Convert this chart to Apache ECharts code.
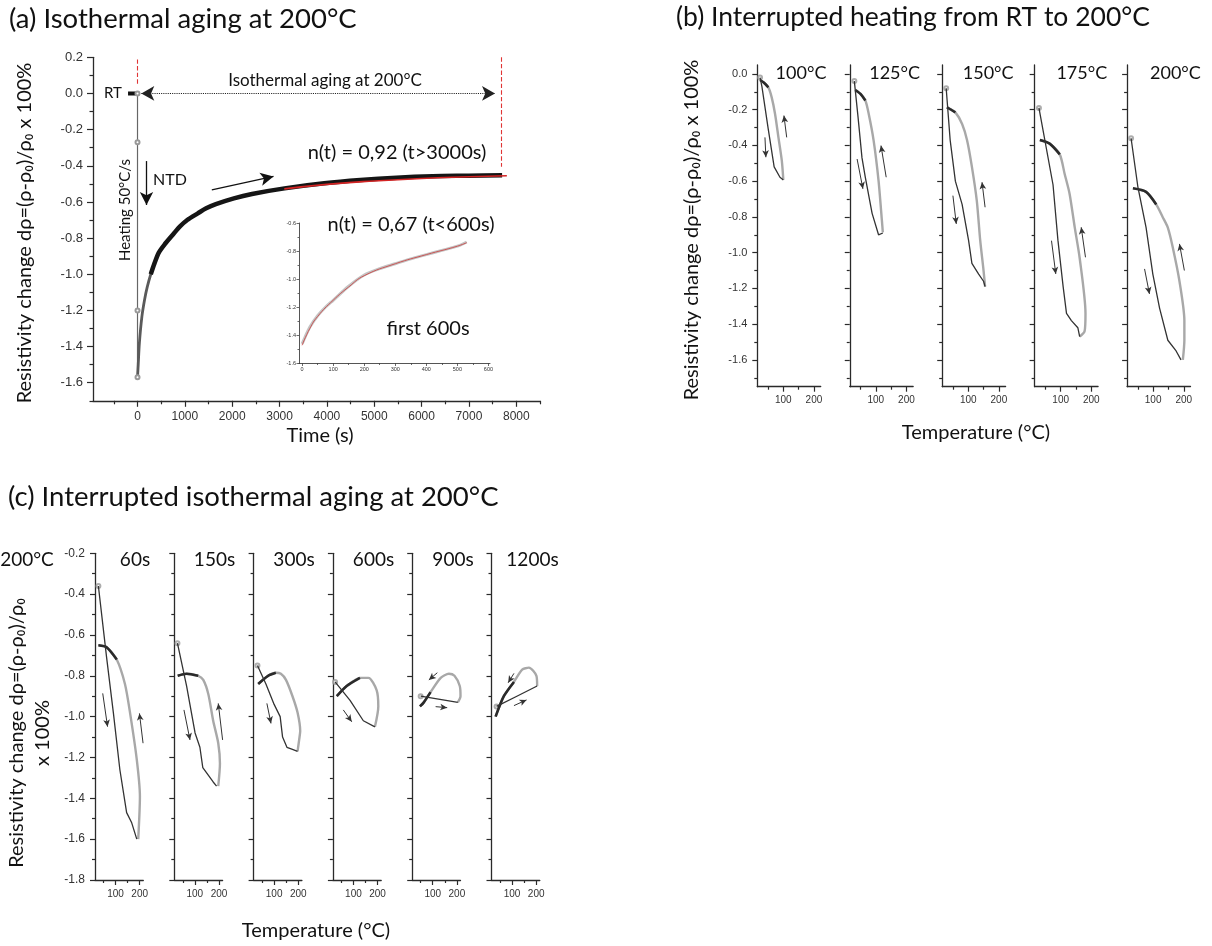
<!DOCTYPE html>
<html><head><meta charset="utf-8">
<script src="https://cdn.jsdelivr.net/npm/echarts@6/dist/echarts.min.js"></script>
<style>html,body{margin:0;padding:0;background:#fff}#c{width:1212px;height:946px}</style>
</head><body><div id="c"></div>
<script>
// ================= DATA =================
// ---- Panel (a): isothermal aging at 200°C ----
const rtTime = [-200, -150, -100, -50, -20];
const rtValue = [0, 0, 0, 0, 0];
const heatingTime = [0, 0, 0, 0];
const heatingValue = [0, -0.27, -1.2, -1.57];
const agingTime = [0, 15, 40, 92, 150, 206, 280, 358, 450, 587, 750, 892, 1050, 1274, 1450, 1655, 2036, 2418, 3104, 3943, 4706, 5469, 6231, 6994, 7700];
const agingValue = [-1.57, -1.50, -1.38, -1.236, -1.14, -1.07, -1.00, -0.94, -0.88, -0.83, -0.78, -0.737, -0.70, -0.663, -0.635, -0.612, -0.580, -0.556, -0.525, -0.497, -0.479, -0.466, -0.458, -0.455, -0.452];
const fitLongTime = [3100, 4000, 5000, 6000, 7000, 7800];
const fitLongValue = [-0.528, -0.503, -0.484, -0.470, -0.461, -0.455];
const insetTime = [0, 10, 25, 50, 75, 100, 150, 200, 250, 300, 350, 400, 450, 500, 530];
const insetValue = [-1.46, -1.41, -1.34, -1.26, -1.20, -1.15, -1.05, -0.97, -0.925, -0.89, -0.855, -0.825, -0.795, -0.765, -0.735];
const insetFitTime = [0, 25, 50, 100, 150, 200, 300, 400, 500, 530];
const insetFitValue = [-1.47, -1.35, -1.265, -1.15, -1.055, -0.975, -0.89, -0.825, -0.765, -0.74];

// tick labels
const aTimeTicks = [0, 1000, 2000, 3000, 4000, 5000, 6000, 7000, 8000];
const aTimeMinor = [-500, 500, 1500, 2500, 3500, 4500, 5500, 6500, 7500, 8500];
const aValueTicks = [0.2, 0.0, -0.2, -0.4, -0.6, -0.8, -1.0, -1.2, -1.4, -1.6];
const aValueMinor = [0.1, -0.1, -0.3, -0.5, -0.7, -0.9, -1.1, -1.3, -1.5, -1.7];
const insetTimeTicks = [0, 100, 200, 300, 400, 500, 600];
const insetTimeMinor = [50, 150, 250, 350, 450, 550];
const insetValueTicks = [-1.6, -1.4, -1.2, -1.0, -0.8, -0.6];
const insetValueMinor = [-1.5, -1.3, -1.1, -0.9, -0.7];
const tempTicks = [100, 200];
const tempMinor = [50, 150];
const bValueTicks = [0.0, -0.2, -0.4, -0.6, -0.8, -1.0, -1.2, -1.4, -1.6];
const bValueMinor = [-0.1, -0.3, -0.5, -0.7, -0.9, -1.1, -1.3, -1.5, -1.7];
const cValueTicks = [-0.2, -0.4, -0.6, -0.8, -1.0, -1.2, -1.4, -1.6, -1.8];
const cValueMinor = [-0.3, -0.5, -0.7, -0.9, -1.1, -1.3, -1.5, -1.7];

// ---- Panel (b): interrupted heating from RT ----
const bTitles = ['100°C', '125°C', '150°C', '175°C', '200°C'];
const bHeatT = [
  [24, 30, 50, 70, 89, 100],
  [30, 42, 55, 66, 88, 109, 123],
  [28, 41, 58, 80, 101, 112, 134, 150, 155],
  [29, 75, 91, 108, 119, 135, 156, 162],
  [28, 50, 77, 99, 121, 148, 175, 191]
];
const bHeatV = [
  [-0.02, -0.07, -0.30, -0.52, -0.578, -0.593],
  [-0.04, -0.24, -0.47, -0.58, -0.78, -0.90, -0.89],
  [-0.08, -0.37, -0.60, -0.73, -0.93, -1.06, -1.12, -1.16, -1.19],
  [-0.19, -0.62, -0.93, -1.19, -1.34, -1.38, -1.42, -1.47],
  [-0.36, -0.63, -0.86, -1.12, -1.31, -1.49, -1.55, -1.60]
];
const bCoolT = [
  [100, 95, 84, 73, 62, 51, 35, 24],
  [123, 120, 109, 93, 77, 66, 50, 33],
  [155, 150, 139, 128, 112, 96, 80, 58, 36, 30],
  [162, 178, 181, 162, 146, 129, 113, 97, 64, 32],
  [197, 202, 202, 186, 164, 148, 131, 110, 77, 34]
];
const bCoolV = [
  [-0.593, -0.485, -0.355, -0.224, -0.131, -0.075, -0.047, -0.034],
  [-0.886, -0.821, -0.597, -0.373, -0.224, -0.149, -0.112, -0.090],
  [-1.19, -1.10, -0.93, -0.71, -0.52, -0.37, -0.28, -0.215, -0.192, -0.187],
  [-1.47, -1.44, -1.34, -1.03, -0.86, -0.67, -0.56, -0.45, -0.39, -0.37],
  [-1.60, -1.49, -1.38, -1.16, -0.97, -0.86, -0.80, -0.73, -0.66, -0.64]
];
// direction arrows [T1, v1, T2, v2]
const bArrows = [
  [[40, -0.355, 43, -0.466], [111, -0.355, 102, -0.233]],
  [[39, -0.476, 58, -0.643], [134, -0.578, 117, -0.401]],
  [[50, -0.681, 61, -0.839], [155, -0.746, 145, -0.606]],
  [[70, -0.933, 84, -1.119], [181, -1.026, 167, -0.858]],
  [[72, -1.091, 88, -1.231], [202, -1.100, 186, -0.951]]
];

// ---- Panel (c): interrupted isothermal aging at 200°C ----
const cTitles = ['60s', '150s', '300s', '600s', '900s', '1200s'];
const cHeatT = [
  [29, 63, 91, 118, 146, 167, 188],
  [28, 66, 101, 121, 133, 176, 190],
  [31, 66, 100, 125, 135, 153, 176, 197],
  [24, 86, 141, 189],
  [50, 130, 204],
  [36, 120, 204]
];
const cHeatV = [
  [-0.36, -0.71, -0.98, -1.26, -1.47, -1.52, -1.60],
  [-0.64, -0.85, -1.08, -1.15, -1.25, -1.32, -1.34],
  [-0.75, -0.84, -0.94, -1.00, -1.10, -1.15, -1.16, -1.17],
  [-0.83, -0.92, -1.02, -1.05],
  [-0.90, -0.915, -0.93],
  [-0.95, -0.90, -0.85]
];
const cCoolT = [
  [194, 201, 188, 160, 139, 105, 63, 29],
  [197, 204, 197, 176, 156, 135, 114, 66, 29],
  [197, 204, 208, 197, 176, 149, 128, 107, 75, 34],
  [189, 203, 196, 162, 127, 72, 31],
  [204, 215, 212, 190, 167, 133, 91, 63, 47],
  [204, 201, 170, 142, 108, 66, 32]
];
const cCoolV = [
  [-1.60, -1.39, -1.21, -0.98, -0.84, -0.72, -0.66, -0.65],
  [-1.34, -1.23, -1.13, -1.02, -0.89, -0.82, -0.80, -0.79, -0.80],
  [-1.17, -1.11, -1.07, -0.98, -0.90, -0.82, -0.79, -0.785, -0.80, -0.84],
  [-1.05, -0.95, -0.87, -0.81, -0.81, -0.85, -0.90],
  [-0.93, -0.90, -0.85, -0.80, -0.79, -0.81, -0.88, -0.93, -0.95],
  [-0.85, -0.80, -0.76, -0.77, -0.83, -0.90, -1.00]
];
const cArrows = [
  [[47, -0.886, 67, -1.049], [214, -1.13, 199, -0.984]],
  [[55, -0.967, 80, -1.114], [215, -1.114, 197, -0.935]],
  [[70, -0.935, 87, -1.033], [222, -0.976, 207, -0.894]],
  [[58, -0.967, 93, -1.025], [224, -0.897, 205, -0.829]],
  [[119, -0.785, 84, -0.820], [112, -0.951, 160, -0.956]],
  [[108, -0.788, 84, -0.834], [108, -0.946, 160, -0.918]]
];

// ================= BUILD =================
const FONT = 'Lato, "Noto Sans", sans-serif';
const TFONT = '"Liberation Sans", Arial, sans-serif';
const AX = '#2a2a2a';
const zip = (a, b) => a.map((x, i) => [x, b[i]]);
const f1 = v => v.toFixed(1);
const f0 = v => String(Math.round(v));

const grids = [], xAxes = [], yAxes = [], series = [];

function axisPair(g, dim, min, max, major, minor, o) {
  const pos = dim === 'x' ? 'bottom' : 'left';
  const main = {
    gridIndex: g, type: 'value', min, max, position: pos, offset: 0,
    axisLine: {show: true, onZero: false, lineStyle: {color: AX, width: o.lw || 1.3}},
    axisTick: {show: true, customValues: major, length: o.majorLen, lineStyle: {color: AX, width: o.tw || 1.2}},
    axisLabel: o.labels ? {show: true, customValues: major, formatter: o.fmt, fontSize: o.fs, fontFamily: TFONT, color: '#333', margin: o.margin} : {show: false},
    splitLine: {show: false}
  };
  const mn = {
    gridIndex: g, type: 'value', min, max, position: pos, offset: 0,
    axisLine: {show: false, onZero: false},
    axisTick: {show: true, customValues: minor, length: o.minorLen, lineStyle: {color: AX, width: o.tw || 1.2}},
    axisLabel: {show: false}, splitLine: {show: false}
  };
  return [main, mn];
}

function addGrid(rect, xr, yr, xt, yt, xo, yo) {
  const g = grids.length;
  grids.push({left: rect[0], top: rect[1], width: rect[2], height: rect[3]});
  xAxes.push(...axisPair(g, 'x', xr[0], xr[1], xt[0], xt[1], xo));
  yAxes.push(...axisPair(g, 'y', yr[0], yr[1], yt[0], yt[1], yo));
  return 2 * g;
}

function arrowLine(idx, pts, size, width, color, type, syms) {
  return {
    type: 'line', xAxisIndex: idx, yAxisIndex: idx, data: [], clip: false, silent: true,
    markLine: {
      silent: true, animation: false, label: {show: false},
      symbol: syms || ['none', 'arrow'], symbolSize: size,
      lineStyle: {color: color || '#222', width: width, type: type || 'solid'},
      data: pts.map(p => [{coord: [p[0], p[1]]}, {coord: [p[2], p[3]]}])
    }
  };
}

// ---- (a) main ----
const A = addGrid([93, 57.3, 447, 343.5], [-940, 8500], [-1.7, 0.2],
  [aTimeTicks, aTimeMinor], [aValueTicks, aValueMinor],
  {labels: true, fmt: f0, fs: 12, margin: 10, majorLen: 6, minorLen: 3.5},
  {labels: true, fmt: f1, fs: 13, margin: 10, majorLen: 6, minorLen: 3.5});
series.push({type: 'line', xAxisIndex: A, yAxisIndex: A, data: zip(rtTime, rtValue), showSymbol: false, lineStyle: {color: '#111', width: 4}, z: 3});
series.push({type: 'line', xAxisIndex: A, yAxisIndex: A, data: zip(heatingTime, heatingValue), symbol: 'emptyCircle', symbolSize: 4, itemStyle: {color: '#999'}, lineStyle: {color: '#666', width: 1.2}, z: 3});
// early part of recovery (thin grey) and the dense later part (thick black band)
series.push({type: 'line', xAxisIndex: A, yAxisIndex: A, data: zip(agingTime.slice(0, 9), agingValue.slice(0, 9)), smooth: 0.3, showSymbol: false, lineStyle: {color: '#5a5a5a', width: 2.8}, z: 3});
series.push({type: 'line', xAxisIndex: A, yAxisIndex: A, data: zip(agingTime.slice(6), agingValue.slice(6)), smooth: 0.3, showSymbol: false, lineStyle: {color: '#151515', width: 4.5}, z: 3});
series.push({type: 'line', xAxisIndex: A, yAxisIndex: A, data: zip(fitLongTime, fitLongValue), smooth: true, showSymbol: false, lineStyle: {color: '#d42424', width: 1.6}, z: 4});
// annotations of (a)
series.push(arrowLine(A, [[0, 0.188, 0, 0.049], [7690, 0.2, 7690, -0.405]], 0, 1.1, '#e03535', 'dashed', ['none', 'none']));
series.push(arrowLine(A, [[80, 0, 7550, 0]], [11, 13], 1.1, '#222', 'dotted', ['arrow', 'arrow']));
series.push(arrowLine(A, [[190, -0.374, 190, -0.617]], [10, 13], 1.3, '#111'));
series.push(arrowLine(A, [[1569, -0.533, 2872, -0.459]], [10, 13], 1.3, '#111'));

// ---- (a) inset ----
const I = addGrid([299, 223, 191, 140.5], [-10, 605], [-1.6, -0.6],
  [insetTimeTicks, insetTimeMinor], [insetValueTicks, insetValueMinor],
  {labels: true, fmt: f0, fs: 5.5, margin: 3, majorLen: 2.5, minorLen: 1.5, lw: 0.8, tw: 0.7},
  {labels: true, fmt: f1, fs: 5.5, margin: 3, majorLen: 2.5, minorLen: 1.5, lw: 0.8, tw: 0.7});
series.push({type: 'line', xAxisIndex: I, yAxisIndex: I, data: zip(insetTime, insetValue), smooth: 0.3, showSymbol: false, lineStyle: {color: '#c4c4c4', width: 3}});
series.push({type: 'line', xAxisIndex: I, yAxisIndex: I, data: zip(insetFitTime, insetFitValue), smooth: true, showSymbol: false, lineStyle: {color: '#c94848', width: 0.9}});

// ---- loop panels ----
function addLoop(idx, hT, hV, cT, cV, arrows) {
  series.push({type: 'line', xAxisIndex: idx, yAxisIndex: idx, data: zip(cT, cV), smooth: 0.25, showSymbol: false, clip: false, lineStyle: {color: '#a8a8a8', width: 2.4}});
  series.push({type: 'line', xAxisIndex: idx, yAxisIndex: idx, data: zip(cT.slice(-3), cV.slice(-3)), smooth: 0.25, showSymbol: false, clip: false, lineStyle: {color: '#2a2a2a', width: 2.6}});
  series.push({type: 'line', xAxisIndex: idx, yAxisIndex: idx, data: zip(hT, hV), showSymbol: false, clip: false, lineStyle: {color: '#333', width: 1.3}});
  series.push({type: 'scatter', xAxisIndex: idx, yAxisIndex: idx, data: [[hT[0], hV[0]]], symbol: 'emptyCircle', symbolSize: 4, itemStyle: {color: '#999', borderWidth: 1}});
  series.push(arrowLine(idx, arrows, [5, 7], 1, '#333'));
}

for (let k = 0; k < 5; k++) {
  const idx = addGrid([757.3 + 92.45 * k, 65, 63.4, 321.7], [15, 222], [-1.75, 0.05],
    [tempTicks, tempMinor], [bValueTicks, bValueMinor],
    {labels: true, fmt: f0, fs: 10, margin: 9, majorLen: 5, minorLen: 3},
    {labels: k === 0, fmt: f1, fs: 11, margin: 10, majorLen: 5, minorLen: 3});
  addLoop(idx, bHeatT[k], bHeatV[k], bCoolT[k], bCoolV[k], bArrows[k]);
}
for (let k = 0; k < 6; k++) {
  const idx = addGrid([95 + 79.3 * k, 553.3, 48.3, 326.7], [15, 215], [-1.8, -0.2],
    [tempTicks, tempMinor], [cValueTicks, cValueMinor],
    {labels: true, fmt: f0, fs: 10, margin: 9, majorLen: 5, minorLen: 3},
    {labels: k === 0, fmt: f1, fs: 12, margin: 10, majorLen: 5, minorLen: 3});
  addLoop(idx, cHeatT[k], cHeatV[k], cCoolT[k], cCoolV[k], cArrows[k]);
}

// ---- texts ----
function txt(x, y, text, size, o) {
  o = o || {};
  return {type: 'text', x, y, rotation: o.rot || 0, silent: true, z: 100,
    style: {text, fontSize: size, fontFamily: FONT, fill: o.color || '#111', align: o.align || 'center', verticalAlign: 'middle'}};
}
const R = Math.PI / 2;
const graphics = [
  txt(9, 19, '(a) Isothermal aging at 200°C', 27.5, {align: 'left'}),
  txt(676, 17, '(b) Interrupted heating from RT to 200°C', 26.5, {align: 'left'}),
  txt(8, 497, '(c) Interrupted isothermal aging at 200°C', 27.5, {align: 'left'}),
  txt(25, 233, 'Resistivity change dρ=(ρ-ρ₀)/ρ₀ x 100%', 20, {rot: R}),
  txt(320, 436, 'Time (s)', 20),
  txt(113, 93, 'RT', 15),
  txt(325, 81, 'Isothermal aging at 200°C', 17),
  txt(124.7, 210, 'Heating 50°C/s', 15, {rot: R}),
  txt(170, 180, 'NTD', 16),
  txt(397, 153, 'n(t) = 0,92 (t>3000s)', 20),
  txt(411, 225, 'n(t) = 0,67 (t<600s)', 20),
  txt(428, 329, 'first 600s', 20),
  txt(692, 230, 'Resistivity change dρ=(ρ-ρ₀)/ρ₀ x 100%', 20, {rot: R}),
  txt(976, 433, 'Temperature (°C)', 20),
  txt(17, 733, 'Resistivity change dρ=(ρ-ρ₀)/ρ₀', 20, {rot: R}),
  txt(43, 733, 'x 100%', 20, {rot: R}),
  txt(27, 560, '200°C', 19),
  txt(316, 931, 'Temperature (°C)', 20)
];
bTitles.forEach((t, k) => graphics.push(txt(801 + 93.6 * k, 73.3, t, 18)));
cTitles.forEach((t, k) => graphics.push(txt(135 + 79.5 * k, 560, t, 19)));

const chart = echarts.init(document.getElementById('c'), null, {renderer: 'canvas'});
chart.setOption({
  animation: false,
  backgroundColor: '#fff',
  grid: grids, xAxis: xAxes, yAxis: yAxes, series: series,
  graphic: graphics
});
</script>
</body></html>
